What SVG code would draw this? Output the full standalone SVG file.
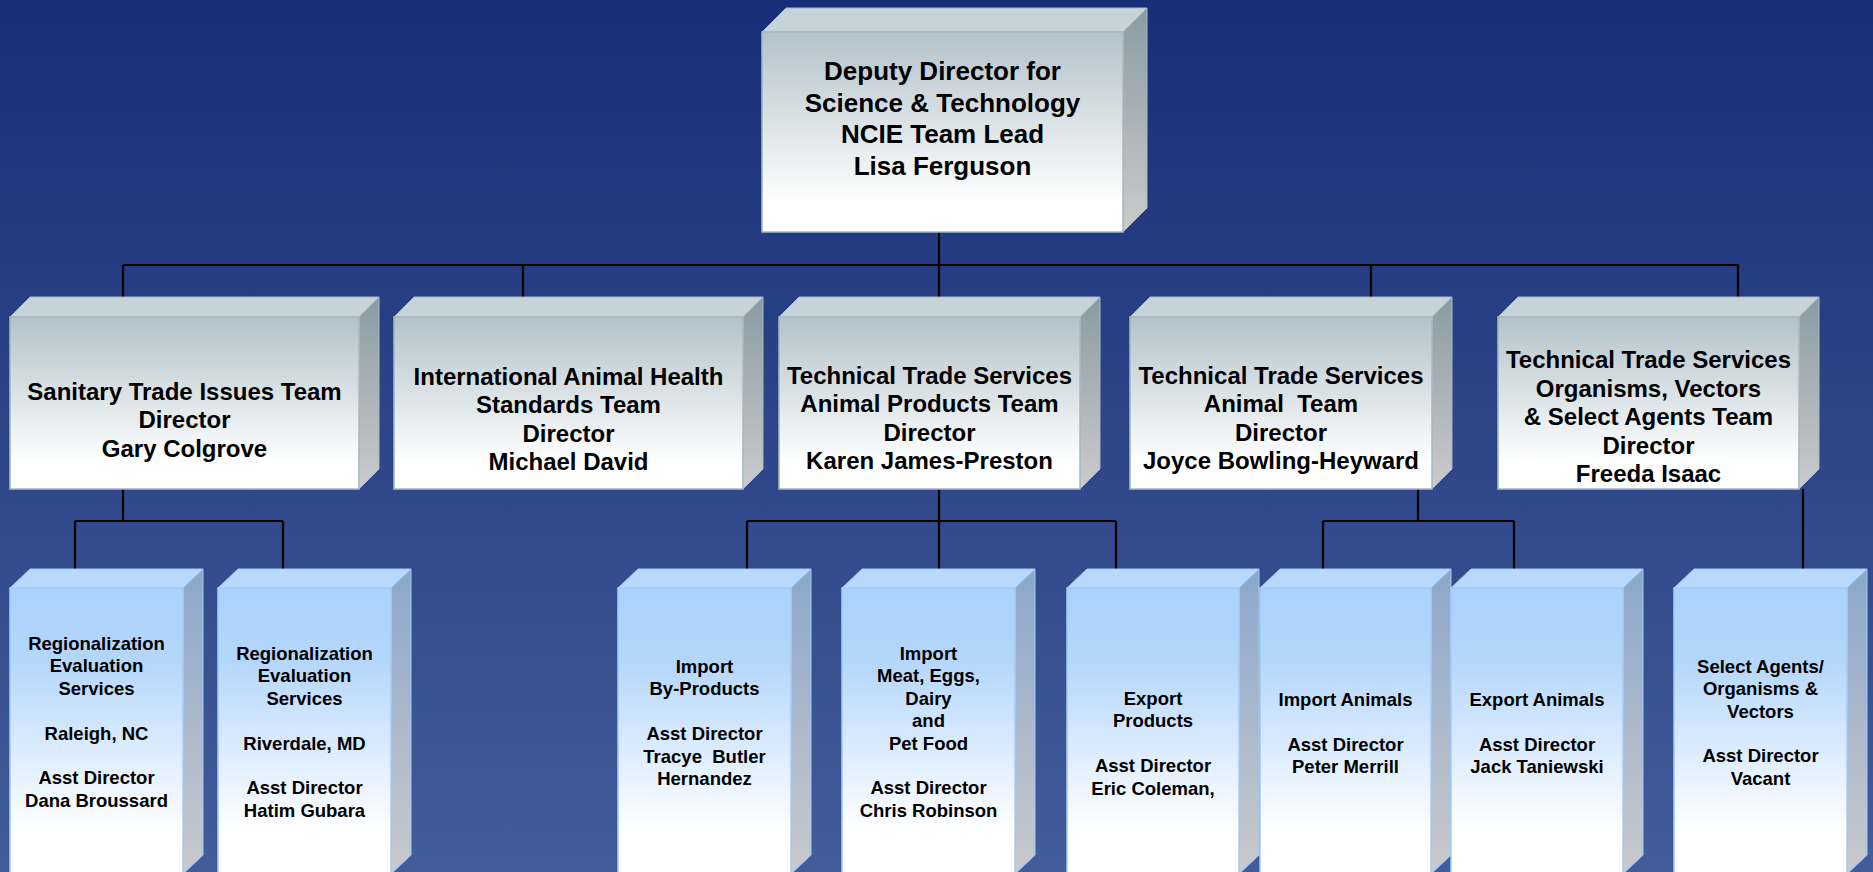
<svg xmlns="http://www.w3.org/2000/svg" width="1873" height="872" viewBox="0 0 1873 872">
<defs>
<linearGradient id="bg" x1="0" y1="0" x2="0" y2="1">
<stop offset="0" stop-color="#172f78"/>
<stop offset="1" stop-color="#435c9a"/>
</linearGradient>
<linearGradient id="gFront" x1="0" y1="0" x2="0" y2="1">
<stop offset="0" stop-color="#b3c2ca"/>
<stop offset="0.5" stop-color="#dfe6e9"/>
<stop offset="0.85" stop-color="#ffffff"/>
</linearGradient>
<linearGradient id="gSide" x1="0" y1="0" x2="0" y2="1">
<stop offset="0" stop-color="#8c9aa3"/>
<stop offset="1" stop-color="#cbcbcc"/>
</linearGradient>
<linearGradient id="bFront" x1="0" y1="0" x2="0" y2="1">
<stop offset="0" stop-color="#abd1fb"/>
<stop offset="0.25" stop-color="#b4d6fb"/>
<stop offset="0.85" stop-color="#ffffff"/>
</linearGradient>
<linearGradient id="bSide" x1="0" y1="0" x2="0" y2="1">
<stop offset="0" stop-color="#8aa8cb"/>
<stop offset="1" stop-color="#c8c9cb"/>
</linearGradient>
</defs>
<style>
.gf{fill:url(#gFront);stroke:#a7b8c2;stroke-width:1.5}
.gt{fill:#c6d3d9;stroke:#a7b8c2;stroke-width:1}
.gs{fill:url(#gSide);stroke:#a7b8c2;stroke-width:1}
.bf{fill:url(#bFront);stroke:#a3cbf6;stroke-width:1.5}
.bt{fill:#b9d9fc;stroke:#a3cbf6;stroke-width:1}
.bs{fill:url(#bSide);stroke:#a3cbf6;stroke-width:1}
text{font-family:"Liberation Sans",Arial,sans-serif;font-weight:bold;fill:#000;text-anchor:middle}
.t1{font-size:26px}
.t2{font-size:24px}
.t3{font-size:18.5px}
.c{fill:none;stroke:#000;stroke-width:2.2}
</style>
<rect x="0" y="0" width="1873" height="872" fill="url(#bg)"/>

<g id="connectors">
<path class="c" d="M939,232V265M123,265H1739M123,265V297M523,265V297M939,265V297M1371,265V297M1738,265V297"/>
<path class="c" d="M123,489V521M75,521H283M75,521V569M283,521V569"/>
<path class="c" d="M939,489V569M747,521H1116M747,521V569M1116,521V569"/>
<path class="c" d="M1418,489V521M1323,521H1514M1323,521V569M1514,521V569"/>
<path class="c" d="M1803,489V569"/>
</g>

<g id="n-deputy">
<polygon class="gt" points="762,32 786,8 1147,8 1123,32"/>
<polygon class="gs" points="1123,32 1147,8 1147,208 1123,232"/>
<rect class="gf" x="762" y="32" width="361" height="200"/>
<text class="t1" x="942.5" y="80">Deputy Director for</text>
<text class="t1" x="942.5" y="111.5">Science &amp; Technology</text>
<text class="t1" x="942.5" y="143">NCIE Team Lead</text>
<text class="t1" x="942.5" y="174.5">Lisa Ferguson</text>
</g>

<g id="n-sanitary">
<polygon class="gt" points="10,317 30,297 379,297 359,317"/>
<polygon class="gs" points="359,317 379,297 379,469 359,489"/>
<rect class="gf" x="10" y="317" width="349" height="172"/>
<text class="t2" x="184.5" y="400">Sanitary Trade Issues Team</text>
<text class="t2" x="184.5" y="428.3">Director</text>
<text class="t2" x="184.5" y="456.6">Gary Colgrove</text>
</g>

<g id="n-intl">
<polygon class="gt" points="394,317 414,297 763,297 743,317"/>
<polygon class="gs" points="743,317 763,297 763,469 743,489"/>
<rect class="gf" x="394" y="317" width="349" height="172"/>
<text class="t2" x="568.5" y="385">International Animal Health</text>
<text class="t2" x="568.5" y="413.3">Standards Team</text>
<text class="t2" x="568.5" y="441.6">Director</text>
<text class="t2" x="568.5" y="469.9">Michael David</text>
</g>

<g id="n-products">
<polygon class="gt" points="779,317 799,297 1100,297 1080,317"/>
<polygon class="gs" points="1080,317 1100,297 1100,469 1080,489"/>
<rect class="gf" x="779" y="317" width="301" height="172"/>
<text class="t2" x="929.5" y="384">Technical Trade Services</text>
<text class="t2" x="929.5" y="412.3">Animal Products Team</text>
<text class="t2" x="929.5" y="440.6">Director</text>
<text class="t2" x="929.5" y="468.9">Karen James-Preston</text>
</g>

<g id="n-animal">
<polygon class="gt" points="1130,317 1150,297 1452,297 1432,317"/>
<polygon class="gs" points="1432,317 1452,297 1452,469 1432,489"/>
<rect class="gf" x="1130" y="317" width="302" height="172"/>
<text class="t2" x="1281" y="384">Technical Trade Services</text>
<text class="t2" x="1281" y="412.3" xml:space="preserve">Animal  Team</text>
<text class="t2" x="1281" y="440.6">Director</text>
<text class="t2" x="1281" y="468.9">Joyce Bowling-Heyward</text>
</g>

<g id="n-organisms">
<polygon class="gt" points="1498,317 1518,297 1819,297 1799,317"/>
<polygon class="gs" points="1799,317 1819,297 1819,469 1799,489"/>
<rect class="gf" x="1498" y="317" width="301" height="172"/>
<text class="t2" x="1648.5" y="368">Technical Trade Services</text>
<text class="t2" x="1648.5" y="396.5">Organisms, Vectors</text>
<text class="t2" x="1648.5" y="425">&amp; Select Agents Team</text>
<text class="t2" x="1648.5" y="453.5">Director</text>
<text class="t2" x="1648.5" y="482">Freeda Isaac</text>
</g>

<g id="n-raleigh">
<polygon class="bt" points="10,588 30,569 203,569 183,588"/>
<polygon class="bs" points="183,588 203,569 203,855 183,874"/>
<rect class="bf" x="10" y="588" width="173" height="286"/>
<text class="t3" x="96.5" y="650">Regionalization</text>
<text class="t3" x="96.5" y="672.4">Evaluation</text>
<text class="t3" x="96.5" y="694.8">Services</text>
<text class="t3" x="96.5" y="739.6">Raleigh, NC</text>
<text class="t3" x="96.5" y="784.4">Asst Director</text>
<text class="t3" x="96.5" y="806.8">Dana Broussard</text>
</g>

<g id="n-riverdale">
<polygon class="bt" points="218,588 238,569 411,569 391,588"/>
<polygon class="bs" points="391,588 411,569 411,855 391,874"/>
<rect class="bf" x="218" y="588" width="173" height="286"/>
<text class="t3" x="304.5" y="660">Regionalization</text>
<text class="t3" x="304.5" y="682.4">Evaluation</text>
<text class="t3" x="304.5" y="704.8">Services</text>
<text class="t3" x="304.5" y="749.6">Riverdale, MD</text>
<text class="t3" x="304.5" y="794.4">Asst Director</text>
<text class="t3" x="304.5" y="816.8">Hatim Gubara</text>
</g>

<g id="n-byproducts">
<polygon class="bt" points="618,588 638,569 811,569 791,588"/>
<polygon class="bs" points="791,588 811,569 811,855 791,874"/>
<rect class="bf" x="618" y="588" width="173" height="286"/>
<text class="t3" x="704.5" y="673">Import</text>
<text class="t3" x="704.5" y="695.4">By-Products</text>
<text class="t3" x="704.5" y="740.2">Asst Director</text>
<text class="t3" x="704.5" y="762.6" xml:space="preserve">Tracye  Butler</text>
<text class="t3" x="704.5" y="785">Hernandez</text>
</g>

<g id="n-meat">
<polygon class="bt" points="842,588 862,569 1035,569 1015,588"/>
<polygon class="bs" points="1015,588 1035,569 1035,855 1015,874"/>
<rect class="bf" x="842" y="588" width="173" height="286"/>
<text class="t3" x="928.5" y="660">Import</text>
<text class="t3" x="928.5" y="682.4">Meat, Eggs,</text>
<text class="t3" x="928.5" y="704.8">Dairy</text>
<text class="t3" x="928.5" y="727.2">and</text>
<text class="t3" x="928.5" y="749.6">Pet Food</text>
<text class="t3" x="928.5" y="794.4">Asst Director</text>
<text class="t3" x="928.5" y="816.8">Chris Robinson</text>
</g>

<g id="n-export-products">
<polygon class="bt" points="1067,588 1087,569 1259,569 1239,588"/>
<polygon class="bs" points="1239,588 1259,569 1259,855 1239,874"/>
<rect class="bf" x="1067" y="588" width="172" height="286"/>
<text class="t3" x="1153" y="705">Export</text>
<text class="t3" x="1153" y="727.4">Products</text>
<text class="t3" x="1153" y="772.2">Asst Director</text>
<text class="t3" x="1153" y="794.6">Eric Coleman,</text>
</g>

<g id="n-import-animals">
<polygon class="bt" points="1260,588 1280,569 1451,569 1431,588"/>
<polygon class="bs" points="1431,588 1451,569 1451,855 1431,874"/>
<rect class="bf" x="1260" y="588" width="171" height="286"/>
<text class="t3" x="1345.5" y="705.7">Import Animals</text>
<text class="t3" x="1345.5" y="750.5">Asst Director</text>
<text class="t3" x="1345.5" y="772.9">Peter Merrill</text>
</g>

<g id="n-export-animals">
<polygon class="bt" points="1451,588 1471,569 1643,569 1623,588"/>
<polygon class="bs" points="1623,588 1643,569 1643,855 1623,874"/>
<rect class="bf" x="1451" y="588" width="172" height="286"/>
<text class="t3" x="1537" y="705.7">Export Animals</text>
<text class="t3" x="1537" y="750.5">Asst Director</text>
<text class="t3" x="1537" y="772.9">Jack Taniewski</text>
</g>

<g id="n-select-agents">
<polygon class="bt" points="1674,588 1694,569 1867,569 1847,588"/>
<polygon class="bs" points="1847,588 1867,569 1867,855 1847,874"/>
<rect class="bf" x="1674" y="588" width="173" height="286"/>
<text class="t3" x="1760.5" y="672.7">Select Agents/</text>
<text class="t3" x="1760.5" y="695.1">Organisms &amp;</text>
<text class="t3" x="1760.5" y="717.5">Vectors</text>
<text class="t3" x="1760.5" y="762.3">Asst Director</text>
<text class="t3" x="1760.5" y="784.7">Vacant</text>
</g>
</svg>
